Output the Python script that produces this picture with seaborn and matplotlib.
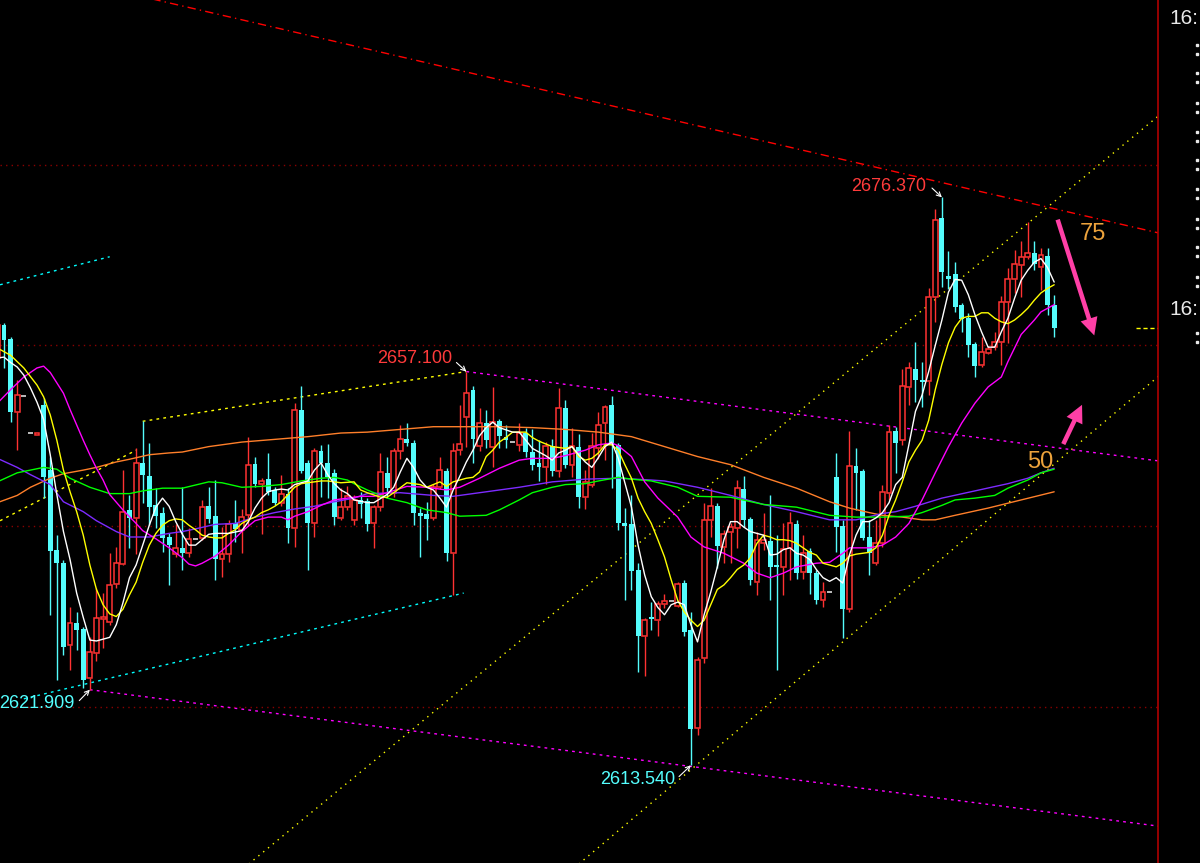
import numpy as np
import pandas as pd
import matplotlib
matplotlib.use("Agg")
import matplotlib.pyplot as plt
from matplotlib.patches import FancyArrowPatch
import seaborn as sns

# ---------------- candle data (bar index 0..160) ----------------
open_ = [
    2658.6, 2662.2, 2660.7, 2652.6, 2654.4, 2650.3, 2650.1, 2653.4, 2646.2, 2637.4,
    2635.9, 2626.8, 2629.3, 2628.6, 2623.2, 2626.0, 2629.7, 2629.4, 2633.6, 2635.8,
    2641.8, 2640.9, 2647.0, 2645.5, 2642.3, 2641.5, 2638.8, 2636.9, 2637.6, 2637.0,
    2638.6, 2638.7, 2642.2, 2641.1, 2636.4, 2636.9, 2640.3, 2639.6, 2641.2, 2646.9,
    2644.7, 2645.2, 2644.0, 2642.6, 2643.6, 2639.8, 2652.8, 2647.0, 2640.3, 2648.3,
    2647.0, 2645.9, 2640.9, 2642.1, 2640.7, 2642.9, 2642.8, 2640.3, 2642.1, 2645.9,
    2643.7, 2648.3, 2649.6, 2649.2, 2641.5, 2641.3, 2640.9, 2644.3, 2646.1, 2637.0,
    2648.4, 2652.1, 2655.1, 2648.9, 2651.4, 2648.8, 2651.6, 2649.9, 2649.3, 2649.0,
    2650.3, 2648.2, 2647.0, 2646.5, 2648.9, 2646.1, 2653.1, 2646.8, 2648.8, 2643.2,
    2644.6, 2648.6, 2651.4, 2653.4, 2649.0, 2640.3, 2640.2, 2635.1, 2627.8, 2629.9,
    2629.6, 2631.4, 2631.7, 2631.2, 2633.7, 2628.5, 2617.7, 2625.4, 2640.7, 2642.2,
    2637.7, 2639.3, 2639.8, 2644.1, 2640.8, 2633.8, 2638.1, 2638.4, 2635.6, 2635.5,
    2637.6, 2640.2, 2634.9, 2637.2, 2634.8, 2631.8, 2632.7, 2645.4, 2640.0, 2630.8,
    2646.6, 2646.1, 2638.8, 2635.9, 2638.1, 2643.7, 2650.5, 2649.5, 2655.4, 2657.4,
    2656.2, 2656.1, 2665.3, 2674.1, 2667.7, 2667.9, 2664.5, 2663.0, 2660.1, 2657.8,
    2659.2, 2659.8, 2660.4, 2664.8, 2667.3, 2668.9, 2669.8, 2670.2, 2668.7, 2669.9,
    2664.5]
high = [
    2662.6, 2662.5, 2660.9, 2656.2, 2654.4, 2650.3, 2650.3, 2654.2, 2647.6, 2639.0,
    2636.3, 2631.1, 2630.5, 2628.9, 2627.7, 2633.2, 2632.6, 2637.0, 2637.7, 2646.2,
    2643.4, 2648.6, 2651.6, 2649.2, 2644.2, 2642.1, 2639.2, 2640.2, 2644.3, 2639.8,
    2638.6, 2642.9, 2644.3, 2645.1, 2639.9, 2640.7, 2642.9, 2641.9, 2649.9, 2647.6,
    2645.3, 2648.1, 2644.3, 2645.7, 2644.2, 2653.6, 2655.5, 2647.3, 2648.6, 2649.0,
    2649.1, 2646.3, 2644.2, 2644.4, 2643.4, 2643.8, 2643.1, 2642.3, 2648.1, 2647.6,
    2648.6, 2651.2, 2651.4, 2649.5, 2642.0, 2642.7, 2644.7, 2647.6, 2646.4, 2649.2,
    2653.4, 2657.1, 2655.5, 2653.1, 2652.9, 2655.4, 2651.9, 2651.2, 2649.3, 2651.4,
    2650.9, 2650.7, 2649.5, 2649.3, 2649.6, 2655.3, 2653.9, 2650.9, 2650.2, 2646.2,
    2650.3, 2652.6, 2653.4, 2654.4, 2649.2, 2642.0, 2643.4, 2635.9, 2629.8, 2631.6,
    2631.7, 2632.5, 2631.7, 2633.8, 2634.0, 2630.5, 2625.5, 2642.6, 2644.2, 2642.6,
    2639.6, 2640.3, 2645.1, 2645.5, 2641.0, 2639.3, 2641.5, 2643.4, 2639.0, 2640.3,
    2641.6, 2640.7, 2639.0, 2637.6, 2635.1, 2633.8, 2632.7, 2648.1, 2640.7, 2650.5,
    2648.6, 2646.3, 2640.7, 2640.7, 2644.6, 2651.2, 2651.0, 2657.4, 2658.2, 2660.4,
    2658.2, 2666.3, 2675.1, 2676.37, 2670.4, 2669.2, 2664.7, 2663.6, 2660.4, 2660.9,
    2659.9, 2661.5, 2665.5, 2668.6, 2670.5, 2671.5, 2673.6, 2671.5, 2670.8, 2670.8,
    2665.6]
low = [
    2658.2, 2657.5, 2651.5, 2648.4, 2654.4, 2650.3, 2650.1, 2643.1, 2630.2, 2623.0,
    2625.7, 2624.1, 2626.3, 2622.1, 2621.909, 2625.1, 2626.5, 2629.1, 2633.2, 2635.7,
    2637.6, 2636.9, 2642.6, 2640.1, 2639.8, 2637.1, 2633.5, 2636.6, 2635.2, 2636.6,
    2638.6, 2638.5, 2640.3, 2634.0, 2634.4, 2636.0, 2638.2, 2637.0, 2640.0, 2644.3,
    2639.1, 2643.4, 2642.3, 2642.2, 2638.1, 2637.7, 2645.9, 2635.1, 2638.8, 2643.2,
    2643.1, 2640.1, 2640.7, 2641.8, 2640.1, 2640.9, 2639.5, 2637.6, 2641.7, 2643.1,
    2643.2, 2647.4, 2648.9, 2640.1, 2636.6, 2638.5, 2640.7, 2644.1, 2636.1, 2632.4,
    2647.9, 2648.8, 2647.0, 2648.3, 2648.6, 2646.5, 2648.6, 2648.6, 2649.3, 2648.3,
    2647.6, 2646.2, 2645.0, 2644.7, 2645.5, 2645.4, 2646.4, 2645.4, 2642.0, 2641.9,
    2644.3, 2647.4, 2647.3, 2644.2, 2639.6, 2631.8, 2632.9, 2623.9, 2623.4, 2628.5,
    2627.9, 2630.9, 2631.7, 2631.1, 2627.9, 2613.54, 2616.9, 2624.9, 2638.8, 2635.4,
    2635.9, 2635.9, 2637.6, 2639.9, 2633.5, 2632.4, 2637.4, 2631.8, 2624.1, 2632.4,
    2634.0, 2634.1, 2634.1, 2632.5, 2631.4, 2631.1, 2632.7, 2637.1, 2627.6, 2630.5,
    2641.8, 2638.5, 2634.6, 2635.7, 2637.7, 2642.9, 2645.9, 2649.0, 2653.4, 2653.7,
    2653.2, 2654.5, 2662.6, 2666.5, 2666.2, 2663.7, 2661.5, 2658.7, 2656.5, 2657.6,
    2659.0, 2659.5, 2657.8, 2660.3, 2665.8, 2665.3, 2669.5, 2668.3, 2666.1, 2663.4,
    2660.9]
close = [
    2662.2, 2660.6, 2652.6, 2654.5, 2654.4, 2650.3, 2650.3, 2645.4, 2637.2, 2635.9,
    2626.6, 2629.3, 2628.5, 2623.0, 2626.1, 2629.8, 2629.9, 2633.5, 2635.9, 2641.6,
    2640.9, 2647.0, 2645.7, 2642.1, 2641.1, 2638.7, 2637.9, 2637.6, 2637.0, 2638.6,
    2638.6, 2642.1, 2640.8, 2636.4, 2636.9, 2640.2, 2639.7, 2641.0, 2646.8, 2644.7,
    2645.0, 2643.8, 2642.6, 2643.6, 2639.8, 2652.8, 2646.1, 2640.3, 2648.3, 2647.0,
    2645.4, 2641.0, 2642.1, 2643.3, 2642.9, 2642.4, 2640.2, 2642.1, 2646.0, 2644.2,
    2648.3, 2649.6, 2649.2, 2641.5, 2641.1, 2640.8, 2644.3, 2646.2, 2637.0, 2648.3,
    2649.1, 2654.7, 2649.6, 2651.4, 2649.5, 2651.5, 2650.0, 2649.5, 2649.3, 2650.3,
    2648.2, 2646.8, 2646.5, 2648.9, 2646.1, 2653.1, 2646.8, 2648.9, 2643.2, 2644.9,
    2648.9, 2651.2, 2653.2, 2649.0, 2640.3, 2640.0, 2635.0, 2627.9, 2629.6, 2629.7,
    2631.4, 2631.7, 2631.7, 2633.6, 2628.3, 2617.6, 2625.2, 2640.7, 2642.2, 2637.8,
    2639.1, 2639.9, 2644.2, 2640.7, 2634.0, 2638.5, 2638.5, 2635.5, 2635.5, 2637.5,
    2640.3, 2634.8, 2637.0, 2634.8, 2631.8, 2632.7, 2632.7, 2639.9, 2630.8, 2646.6,
    2645.9, 2638.7, 2637.0, 2638.1, 2643.8, 2650.4, 2649.2, 2655.5, 2657.5, 2656.2,
    2655.9, 2665.3, 2673.9, 2668.1, 2667.3, 2664.2, 2662.9, 2660.0, 2657.7, 2659.3,
    2659.6, 2660.4, 2664.8, 2667.3, 2669.0, 2669.8, 2670.2, 2669.0, 2670.0, 2664.5,
    2661.9]

# ---------------- moving averages, (bar index, price) ----------------
ma5 = [(0, 2658.6), (1, 2658.7), (2, 2658.1), (3, 2657.6), (4, 2656.7), (5, 2655.3), (6, 2653.7),
       (7, 2651.8), (8, 2647.9), (9, 2643.5), (10, 2639.4), (11, 2636.3), (12, 2632.6), (13, 2629.9),
       (14, 2627.4), (15, 2627.3), (16, 2627.5), (17, 2627.7), (18, 2629.1), (19, 2631.5), (20, 2634.3),
       (21, 2635.7), (22, 2637.9), (23, 2640.1), (24, 2642.1), (25, 2643.1), (26, 2642.2), (27, 2640.5),
       (28, 2639.1), (29, 2637.9), (30, 2637.9), (31, 2638.5), (32, 2639.1), (33, 2639.2), (35, 2639.2),
       (37, 2639.5), (38, 2640.5), (39, 2642.0), (40, 2643.1), (41, 2643.8), (42, 2644.0), (43, 2644.1),
       (44, 2644.0), (45, 2644.6), (46, 2644.8), (47, 2645.0), (48, 2646.2), (49, 2647.0), (50, 2645.7),
       (51, 2644.7), (52, 2644.0), (53, 2643.6), (54, 2642.9), (56, 2642.6), (57, 2642.6), (59, 2643.5),
       (60, 2644.3), (61, 2646.0), (62, 2647.5), (63, 2646.5), (64, 2645.1), (65, 2644.3), (66, 2644.0),
       (67, 2643.1), (68, 2642.1), (69, 2644.0), (70, 2645.5), (71, 2647.1), (72, 2648.4), (73, 2650.0),
       (74, 2650.9), (75, 2651.5), (76, 2650.9), (78, 2650.4), (79, 2650.4), (80, 2649.5), (81, 2648.6),
       (82, 2648.2), (83, 2647.8), (84, 2647.3), (85, 2648.1), (86, 2648.4), (87, 2648.8), (88, 2647.9),
       (89, 2647.1), (90, 2646.5), (91, 2647.6), (92, 2648.8), (93, 2649.3), (94, 2647.5), (95, 2644.8),
       (96, 2642.1), (97, 2637.9), (98, 2634.6), (99, 2632.2), (100, 2631.0), (101, 2630.2), (102, 2631.3),
       (103, 2631.6), (104, 2631.3), (105, 2629.1), (106, 2627.2), (107, 2630.2), (108, 2632.7),
       (109, 2635.5), (110, 2638.5), (111, 2640.5), (112, 2640.5), (113, 2639.9), (114, 2639.4),
       (115, 2639.2), (116, 2639.0), (117, 2636.8), (118, 2636.9), (119, 2637.4), (120, 2637.6),
       (121, 2637.0), (122, 2636.8), (123, 2636.3), (124, 2635.2), (125, 2634.3), (126, 2633.9),
       (127, 2634.3), (128, 2633.7), (129, 2636.8), (130, 2639.0), (131, 2640.5), (132, 2640.5),
       (133, 2640.9), (134, 2641.5), (135, 2642.6), (136, 2644.6), (137, 2645.4), (138, 2649.0),
       (139, 2652.7), (140, 2654.5), (141, 2657.1), (142, 2660.0), (143, 2662.8), (144, 2665.9),
       (145, 2667.3), (146, 2667.2), (147, 2665.6), (148, 2663.4), (149, 2661.5), (150, 2659.8),
       (151, 2659.8), (152, 2661.5), (153, 2663.0), (154, 2665.2), (155, 2667.2), (156, 2668.3),
       (157, 2669.2), (158, 2669.6), (159, 2668.6), (160, 2667.0)]
ma10 = [(0, 2659.7), (2, 2658.9), (4, 2657.5), (6, 2655.6), (7, 2654.3), (8, 2652.3), (9, 2649.5),
        (10, 2646.2), (11, 2643.8), (12, 2641.6), (13, 2639.0), (14, 2635.7), (15, 2633.0), (16, 2631.3),
        (17, 2630.3), (18, 2630.0), (19, 2630.8), (20, 2632.4), (21, 2633.8), (22, 2636.0), (23, 2637.9),
        (24, 2639.2), (25, 2640.1), (26, 2640.6), (27, 2640.8), (28, 2640.7), (29, 2640.1), (30, 2639.6),
        (31, 2639.0), (32, 2638.8), (33, 2638.7), (34, 2638.7), (35, 2639.2), (36, 2639.6), (37, 2640.3),
        (38, 2640.7), (39, 2641.0), (40, 2641.5), (41, 2641.8), (42, 2642.2), (43, 2642.7), (44, 2643.5),
        (45, 2644.3), (46, 2644.7), (47, 2644.8), (48, 2644.9), (49, 2645.0), (50, 2645.0), (52, 2644.8),
        (54, 2644.9), (55, 2644.0), (56, 2643.7), (58, 2643.2), (59, 2643.2), (60, 2643.7), (62, 2644.8),
        (64, 2644.6), (65, 2644.3), (67, 2644.9), (68, 2644.4), (69, 2644.9), (71, 2645.3), (72, 2645.4),
        (73, 2646.0), (74, 2647.7), (75, 2648.4), (76, 2649.3), (77, 2649.8), (78, 2650.4), (80, 2650.4),
        (81, 2649.8), (82, 2649.4), (84, 2648.8), (86, 2648.6), (87, 2648.8), (88, 2647.7), (89, 2647.3),
        (90, 2647.5), (91, 2648.1), (92, 2649.0), (93, 2649.0), (94, 2648.4), (95, 2646.8), (96, 2645.3),
        (97, 2643.1), (98, 2641.6), (99, 2640.3), (100, 2638.5), (101, 2636.6), (102, 2634.1),
        (103, 2631.8), (104, 2630.5), (105, 2629.6), (106, 2628.9), (107, 2629.6), (108, 2631.3),
        (109, 2633.0), (110, 2633.5), (111, 2634.3), (112, 2635.2), (113, 2635.7), (114, 2636.5),
        (115, 2638.1), (116, 2639.0), (117, 2638.8), (118, 2638.5), (119, 2638.5), (120, 2638.4),
        (121, 2638.1), (122, 2637.6), (123, 2637.1), (124, 2636.8), (125, 2635.9), (126, 2635.7),
        (127, 2635.5), (128, 2635.9), (129, 2636.7), (130, 2636.9), (131, 2637.0), (132, 2637.1),
        (133, 2637.6), (134, 2639.0), (135, 2641.2), (136, 2642.9), (137, 2644.9), (138, 2647.1),
        (139, 2648.4), (140, 2649.5), (141, 2651.7), (142, 2655.1), (143, 2657.9), (144, 2660.3),
        (145, 2662.0), (146, 2663.0), (147, 2663.2), (148, 2663.2), (149, 2663.6), (150, 2663.6),
        (151, 2663.0), (152, 2662.6), (153, 2662.4), (154, 2662.8), (155, 2663.4), (156, 2664.1),
        (157, 2665.0), (158, 2665.8), (159, 2666.3), (160, 2666.7)]
ma20 = [(0, 2653.6), (2, 2655.1), (4, 2656.5), (6, 2657.5), (7, 2657.7), (8, 2657.0), (10, 2654.7),
        (11, 2652.9), (13, 2649.5), (14, 2647.9), (15, 2646.4), (16, 2645.1), (17, 2643.5), (19, 2641.8),
        (21, 2640.3), (22, 2639.5), (24, 2638.6), (25, 2638.1), (26, 2637.6), (28, 2636.5), (29, 2635.8),
        (30, 2635.6), (31, 2635.9), (33, 2636.7), (35, 2637.9), (37, 2639.4), (39, 2640.6), (41, 2641.0),
        (43, 2641.0), (44, 2640.7), (45, 2641.1), (47, 2641.6), (49, 2642.3), (51, 2642.9), (53, 2643.1),
        (55, 2643.3), (57, 2643.3), (59, 2643.7), (62, 2644.4), (65, 2644.3), (68, 2644.0), (70, 2644.3),
        (73, 2645.3), (76, 2646.4), (79, 2647.3), (81, 2647.5), (84, 2647.5), (86, 2647.8), (89, 2648.4),
        (91, 2649.0), (93, 2649.2), (94, 2648.9), (96, 2647.7), (98, 2644.9), (100, 2643.1), (103, 2641.0),
        (105, 2638.8), (107, 2637.7), (110, 2637.0), (113, 2635.9), (115, 2634.8), (117, 2634.3),
        (119, 2634.8), (121, 2635.5), (124, 2635.9), (126, 2636.0), (128, 2637.0), (129, 2637.6),
        (132, 2637.6), (134, 2637.9), (136, 2638.8), (138, 2640.3), (140, 2642.9), (142, 2645.9),
        (144, 2648.8), (146, 2651.4), (148, 2653.6), (150, 2655.4), (152, 2656.5), (153, 2658.2),
        (155, 2661.2), (157, 2662.8), (158, 2663.7), (160, 2664.5)]
ma_green = [(0, 2644.9), (3, 2645.9), (7, 2646.5), (9, 2646.3), (11, 2645.3), (14, 2644.3), (17, 2643.6),
            (20, 2643.6), (22, 2643.9), (25, 2644.2), (28, 2644.2), (32, 2644.9), (34, 2644.8), (37, 2644.3),
            (40, 2644.4), (43, 2644.6), (46, 2645.0), (49, 2645.3), (51, 2645.4), (53, 2645.1), (54, 2644.7),
            (56, 2644.0), (59, 2643.1), (62, 2642.6), (65, 2641.8), (68, 2641.5), (70, 2641.1), (74, 2641.2),
            (76, 2641.8), (79, 2642.9), (81, 2643.7), (84, 2644.3), (86, 2644.6), (89, 2644.7), (91, 2645.0),
            (94, 2645.4), (96, 2645.2), (99, 2645.0), (103, 2644.3), (106, 2643.3), (111, 2643.2),
            (116, 2642.4), (121, 2642.1), (126, 2641.2), (130, 2641.0), (134, 2641.0), (138, 2641.1),
            (140, 2641.5), (143, 2642.3), (145, 2642.9), (148, 2643.1), (151, 2643.4), (153, 2644.2),
            (156, 2645.1), (158, 2645.9), (160, 2646.3)]
ma_purple = [(0, 2647.5), (3, 2646.5), (5, 2645.7), (8, 2644.6), (10, 2642.7), (13, 2641.6), (15, 2640.6),
             (18, 2639.4), (20, 2638.8), (23, 2638.8), (26, 2639.2), (28, 2639.4), (30, 2639.7), (33, 2640.2),
             (36, 2640.3), (39, 2641.0), (42, 2641.5), (45, 2641.9), (48, 2642.2), (51, 2642.7), (54, 2643.1),
             (56, 2643.6), (61, 2643.7), (66, 2643.4), (69, 2643.3), (74, 2643.8), (79, 2644.3), (84, 2644.9),
             (89, 2645.2), (94, 2645.3), (99, 2645.1), (101, 2645.0), (106, 2644.3), (111, 2643.4),
             (116, 2642.4), (121, 2641.6), (126, 2640.7), (130, 2640.7), (134, 2641.4), (136, 2641.6),
             (139, 2642.2), (143, 2643.1), (148, 2643.9), (153, 2644.7), (156, 2645.3), (158, 2645.9),
             (160, 2646.4)]
ma_orange = [(0, 2642.6), (3, 2643.4), (5, 2644.3), (8, 2645.3), (10, 2645.8), (13, 2646.2), (15, 2646.5),
             (18, 2647.1), (20, 2647.4), (23, 2647.9), (26, 2648.1), (28, 2648.2), (32, 2648.8), (37, 2649.3),
             (42, 2649.6), (47, 2649.9), (52, 2650.3), (56, 2650.4), (61, 2650.7), (66, 2651.0), (71, 2651.0),
             (76, 2651.0), (81, 2650.9), (86, 2650.7), (91, 2650.4), (96, 2649.9), (101, 2648.8),
             (106, 2647.7), (111, 2646.8), (116, 2645.4), (121, 2644.2), (126, 2642.7), (129, 2642.0),
             (132, 2641.5), (134, 2641.2), (137, 2641.0), (140, 2640.7), (142, 2640.7), (145, 2641.2),
             (150, 2642.0), (155, 2642.9), (160, 2643.8)]

# ---------------- hand-drawn trend lines: (bar index, price) end points ----------------
red_resistance = [(20, 2698.9), (176, 2672.4)]
yellow_upper = [(37, 2602.0), (176, 2685.5)]
yellow_lower = [(87, 2602.0), (176, 2656.7)]
yellow_left_top = [(22, 2651.6), (71, 2657.1)]
yellow_left_low = [(0.4, 2640.6), (21, 2648.4)]
magenta_upper = [(71, 2657.1), (176, 2647.2)]
magenta_lower = [(14, 2621.909), (176, 2606.8)]
cyan_lower = [(4, 2620.9), (70.6, 2632.6)]
cyan_top = [(0.4, 2666.7), (17, 2669.8)]

grid_levels = [2620, 2640, 2660, 2680]

# price marks: (label, text anchor index, text price, arrow start, arrow end, colour)
price_marks = [
    ("2676.370", 140.6, 2677.6, (141.5, 2677.4), (143.0, 2676.37), "#ff3b3b"),
    ("2657.100", 68.8, 2658.6, (69.5, 2658.1), (71.0, 2657.1), "#ff3b3b"),
    ("2621.909", 11.7, 2620.4, (12.4, 2620.7), (14.0, 2621.909), "#55ffff"),
    ("2613.540", 102.7, 2612.0, (103.2, 2612.3), (105.0, 2613.54), "#55ffff"),
]
level_tags = [("75", 165.9, 2672.3), ("50", 157.9, 2647.1)]
pink_arrows = [((160.4, 2674.2), (166.2, 2660.8)), ((161.2, 2648.8), (164.4, 2653.7))]

# ---------------- styling ----------------
sns.set_style("dark", rc={"axes.facecolor": "black", "figure.facecolor": "black"})
plt.rcParams['font.family'] = ['Liberation Sans', 'DejaVu Sans']

RED = "#ff3232"
CYAN = "#54fcfc"
DOJI = "#bdbdbd"
PINK = "#ff3fa6"
TAG = "#eda33c"

fig = plt.figure(figsize=(12, 8.63), dpi=100)
fig.patch.set_facecolor("black")
ax = fig.add_axes([0, 0, 1158 / 1200, 1])
ax.set_facecolor("black")
ax.set_xlim(0.394, 175.72)
ax.set_ylim(2602.74, 2698.2)
for side in ["top", "left", "bottom"]:
    ax.spines[side].set_visible(False)
ax.spines["right"].set_color("#b00000")
ax.spines["right"].set_linewidth(1.2)
ax.set_xticks([])
ax.set_yticks([])
ax.grid(False)

for lvl in grid_levels:
    ax.axhline(lvl, color="#8a0000", ls=(0, (1, 3)), lw=1, zorder=1)

# trend lines
def seg(points, color, ls, lw=1.0):
    xs, ys = zip(*points)
    ax.plot(xs, ys, color=color, ls=ls, lw=lw, zorder=2)

seg(red_resistance, "#ff0000", (0, (6, 3, 1, 3)))
seg(yellow_upper, "#ffff00", (0, (1, 3.5)))
seg(yellow_lower, "#ffff00", (0, (1, 3.5)))
seg(yellow_left_top, "#ffff00", (0, (2, 3)))
seg(yellow_left_low, "#ffff00", (0, (2, 3)))
seg(magenta_upper, "#ff00ff", (0, (2, 3)))
seg(magenta_lower, "#ff00ff", (0, (2, 3)))
seg(cyan_lower, "#00ffff", (0, (2, 3)))
seg(cyan_top, "#00ffff", (0, (2, 3)))

# candles
df = pd.DataFrame({"o": open_, "h": high, "l": low, "c": close})
df["i"] = np.arange(len(df))
df["top"] = df[["o", "c"]].max(axis=1)
df["bot"] = df[["o", "c"]].min(axis=1)
up = df[df.c > df.o]
dn = df[df.c < df.o]
flat = df[df.c == df.o]
w = 0.74

ax.vlines(up.i, up.top, up.h, color=RED, lw=1, zorder=3)
ax.vlines(up.i, up.l, up.bot, color=RED, lw=1, zorder=3)
ax.bar(up.i, up.c - up.o, bottom=up.o, width=w, facecolor="black", edgecolor=RED, lw=1.1, zorder=4)
ax.vlines(dn.i, dn.l, dn.h, color=CYAN, lw=1, zorder=3)
ax.bar(dn.i, np.maximum(dn.o - dn.c, 0.15), bottom=dn.c, width=w, color=CYAN, lw=0, zorder=4)
ax.vlines(flat.i, flat.l, flat.h, color=DOJI, lw=1, zorder=3)
ax.hlines(flat.c, flat.i - w / 2, flat.i + w / 2, color=DOJI, lw=1.4, zorder=4)

# moving averages
ma_specs = [(ma_orange, "#ff7f2a"), (ma_purple, "#7d2bff"), (ma_green, "#00ff00"),
            (ma20, "#ff00ff"), (ma10, "#ffff00"), (ma5, "#ffffff")]
for pts, col in ma_specs:
    mdf = pd.DataFrame(pts, columns=["idx", "val"])
    sns.lineplot(data=mdf, x="idx", y="val", color=col, lw=1.0, ax=ax, zorder=5)
ax.set_xlabel("")
ax.set_ylabel("")

# last price marker
ax.hlines(close[-1], 172.4, 175.6, color="#ffff00", ls=(0, (3, 2)), lw=1, zorder=5)

# price labels with small white arrows
for label, tx, ty, a0, a1, col in price_marks:
    ax.text(tx, ty, label, color=col, fontsize=13, ha="right", va="center", zorder=6)
    ax.annotate("", xy=a1, xytext=a0,
                arrowprops=dict(arrowstyle="->", color="white", lw=0.8,
                                shrinkA=0, shrinkB=0, mutation_scale=8), zorder=6)

for txt, tx, ty in level_tags:
    ax.text(tx, ty, txt, color=TAG, fontsize=17, ha="center", va="center", zorder=6)

for a0, a1 in pink_arrows:
    ax.add_patch(FancyArrowPatch(a0, a1, arrowstyle="simple,head_length=0.7,head_width=0.7,tail_width=0.18",
                                 mutation_scale=18, color=PINK, lw=0, zorder=7))

# right-hand strip (partly visible axis labels)
rax = fig.add_axes([1158 / 1200, 0, 42 / 1200, 1])
rax.set_facecolor("black")
rax.set_axis_off()
rax.set_xlim(0, 1)
rax.set_ylim(863, 0)
for ypix in [19, 309]:
    rax.text(0.28, ypix, "16:", color="#e8e8e8", fontsize=15, ha="left", va="center")
colon_rows = [45, 73, 103, 132, 160, 189, 219, 247, 277, 333]
for ypix in colon_rows:
    rax.plot([0.93, 0.93], [ypix, ypix + 9], ls="none", marker="s", ms=1.8, color="#e8e8e8")

fig.savefig("out.png", dpi=100, facecolor="black")
